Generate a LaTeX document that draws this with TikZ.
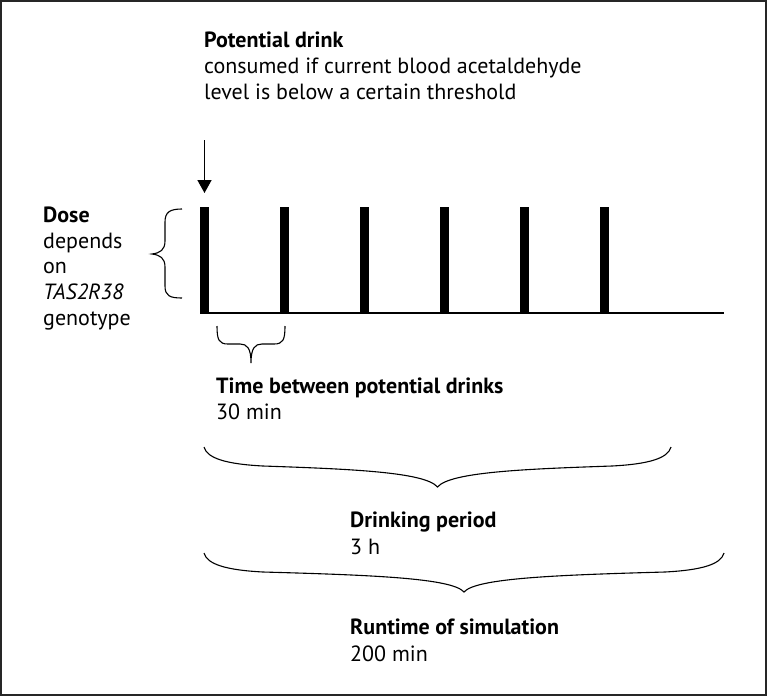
\documentclass[tikz,border=0pt]{standalone}
\usepackage{fontspec}
\setmainfont{PT Sans}
\usetikzlibrary{arrows.meta}
\begin{document}
\begin{tikzpicture}[x=1pt,y=-1pt,
  txt/.style={anchor=base west,inner sep=0pt,font=\fontsize{22}{26}\selectfont},
  btxt/.style={txt,font=\fontsize{22}{26}\selectfont\bfseries},
  bar/.style={fill=black,draw=none},
  brc/.style={draw=black,line width=1.1pt},
  arr/.style={line width=1.5pt,-{Triangle[width=14pt,length=13pt]}}]
\useasboundingbox (0,0) rectangle (767,696);
\draw[black!85,line width=2pt] (1,1) rectangle (766,695);
% top texts
\node[btxt] (t1) at (204,47) {Potential drink};
\node[txt] (t2) at (204,73) {consumed if current blood acetaldehyde};
\node[txt] (t3) at (204,99) {level is below a certain threshold};
% arrow
\coordinate (astart) at (204.5,140);
\coordinate (aend) at (204.5,193);
\draw[arr] (astart) -- (aend);
% bars and axis
\draw[line width=2pt] (200,313) coordinate (ax0) -- (724,313) coordinate (ax1);
\foreach \i in {0,...,5}{
  \fill[bar] ({200+80*\i},207) rectangle ({209+80*\i},314);
}
% Dose texts
\node[btxt] (d1) at (43,222) {Dose};
\node[txt] (d2) at (43,248) {depends};
\node[txt] (d3) at (43,273) {on};
\node[txt] (d4) at (43,299) {\textit{TAS2R38}};
\node[txt] (d5) at (43,325) {genotype};
% left brace
\draw[brc] (182,209) .. controls (170,209) and (165,212) .. (165,222) -- (165,241)
  .. controls (165,250) and (160,253) .. (152,254)
  .. controls (160,255) and (165,258) .. (165,267) -- (165,286)
  .. controls (165,296) and (170,298) .. (182,298);
% small bottom brace
\draw[brc] (217,326) .. controls (217,340) and (219,344) .. (228,344) -- (240,344)
  .. controls (247,344) and (251,348) .. (251,363)
  .. controls (251,348) and (255,344) .. (262,344) -- (274,344)
  .. controls (283,344) and (285,340) .. (285,326);
\node[btxt] (tb1) at (216,393) {Time between potential drinks};
\node[txt] (tb2) at (216,419) {30 min};
% big brace 1
\draw[brc] (204,447) .. controls (207,458) and (225,464) .. (263,466)
  .. controls (350,469) and (425,472) .. (437.5,487)
  .. controls (450,472) and (525,469) .. (612,466)
  .. controls (650,464) and (668,458) .. (671,447);
\node[btxt] (dp1) at (350,527) {Drinking period};
\node[txt] (dp2) at (350,554) {3 h};
% big brace 2
\draw[brc] (204,553) .. controls (207,564) and (225,570) .. (263,572)
  .. controls (370,575) and (452,578) .. (464,592)
  .. controls (476,578) and (558,575) .. (665,572)
  .. controls (703,570) and (721,564) .. (724,553);
\node[btxt] (rs1) at (350,634) {Runtime of simulation};
\node[txt] (rs2) at (350,661) {200 min};
\end{tikzpicture}
\end{document}
